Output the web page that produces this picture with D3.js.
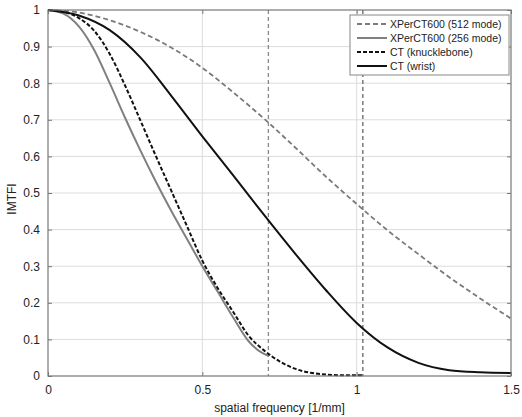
<!DOCTYPE html>
<html>
<head>
<meta charset="utf-8">
<script src="https://cdn.jsdelivr.net/npm/d3@7"></script>
<style>
    body { margin: 0; background: #fff; }
    text { font-family: "Liberation Sans", Arial, sans-serif; fill: #222; }
    .grid line { stroke: #dcdcdc; stroke-width: 1; }
</style>
</head>
<body>
<div id="mtf-plot"></div>
<script>
// spatial frequency [1/mm] and |MTF|
const xper512Freq = [0, 0.1, 0.2, 0.3, 0.4, 0.5, 0.6, 0.7, 0.8, 0.9, 1.0, 1.1, 1.2, 1.3, 1.4, 1.5];
const xper512Mtf  = [1, 0.993, 0.972, 0.94, 0.897, 0.842, 0.775, 0.703, 0.625, 0.545, 0.47, 0.398, 0.333, 0.27, 0.212, 0.157];

const xper256Freq = [0, 0.05, 0.1, 0.15, 0.2, 0.25, 0.3, 0.35, 0.4, 0.45, 0.5, 0.55, 0.6, 0.65, 0.69, 0.714];
const xper256Mtf  = [1, 0.99, 0.955, 0.89, 0.8, 0.705, 0.615, 0.53, 0.45, 0.375, 0.3, 0.23, 0.16, 0.095, 0.065, 0.055];

const knuckleFreq = [0, 0.05, 0.1, 0.15, 0.2, 0.25, 0.3, 0.35, 0.4, 0.45, 0.5, 0.55, 0.6, 0.65, 0.7, 0.75, 0.8, 0.85, 0.9, 0.95, 1.02];
const knuckleMtf  = [1, 0.995, 0.978, 0.943, 0.88, 0.793, 0.697, 0.6, 0.505, 0.41, 0.315, 0.24, 0.175, 0.11, 0.07, 0.04, 0.02, 0.009, 0.004, 0.002, 0.002];

const wristFreq = [0, 0.1, 0.2, 0.3, 0.4, 0.5, 0.6, 0.7, 0.8, 0.9, 1.0, 1.1, 1.2, 1.3, 1.4, 1.5];
const wristMtf  = [1, 0.985, 0.945, 0.87, 0.765, 0.655, 0.548, 0.44, 0.335, 0.235, 0.145, 0.078, 0.036, 0.016, 0.01, 0.008];

// vertical dashed markers
const markerFreqs = [0.714, 1.02];

const xTicks = [0, 0.5, 1, 1.5];
const yTicks = [0, 0.1, 0.2, 0.3, 0.4, 0.5, 0.6, 0.7, 0.8, 0.9, 1];
const xGrid = [0.5, 1];

const seriesNames = ['XPerCT600 (512 mode)', 'XPerCT600 (256 mode)', 'CT (knucklebone)', 'CT (wrist)'];

function zip(fs, vs) {
    return fs.map((f, i) => [f, vs[i]]);
}

function createPlot() {
    let svgWidth = 522,
        svgHeight = 417,
        margin = {top: 10, right: 11, bottom: 41, left: 48},
        plotWidth = svgWidth - margin.left - margin.right,
        plotHeight = svgHeight - margin.top - margin.bottom,
        svg = d3.select('#mtf-plot').append('svg')
                .attr('width', svgWidth)
                .attr('height', svgHeight),
        plot = svg.append('g')
                  .attr('transform', `translate(${margin.left}, ${margin.top})`);

    let xScale = d3.scaleLinear().domain([0, 1.5]).range([0, plotWidth]),
        yScale = d3.scaleLinear().domain([0, 1]).range([plotHeight, 0]);

    // grid
    let grid = plot.append('g').attr('class', 'grid');
    grid.selectAll('line.h')
        .data(yTicks.slice(1, -1)).enter().append('line')
        .attr('x1', 0).attr('x2', plotWidth)
        .attr('y1', d => yScale(d)).attr('y2', d => yScale(d));
    grid.selectAll('line.v')
        .data(xGrid).enter().append('line')
        .attr('y1', 0).attr('y2', plotHeight)
        .attr('x1', d => xScale(d)).attr('x2', d => xScale(d));

    // axes (inward ticks on all four sides)
    let tickLen = 4;
    plot.append('g')
        .attr('transform', `translate(0, ${plotHeight})`)
        .call(d3.axisBottom(xScale).tickValues(xTicks)
                .tickSize(-tickLen).tickPadding(9)
                .tickFormat(d3.format('')));
    plot.append('g')
        .call(d3.axisLeft(yScale).tickValues(yTicks)
                .tickSize(-tickLen).tickPadding(8)
                .tickFormat(d3.format('')));
    plot.append('g')
        .attr('transform', `translate(${plotWidth}, 0)`)
        .call(d3.axisRight(yScale).tickValues(yTicks).tickSize(-tickLen).tickFormat(''));
    plot.append('g')
        .call(d3.axisTop(xScale).tickValues(xTicks).tickSize(-tickLen).tickFormat(''));

    svg.selectAll('.domain').remove();
    svg.selectAll('.tick line').attr('stroke', '#777');
    svg.selectAll('.tick text').attr('font-size', 12).attr('fill', '#222');

    // markers
    plot.selectAll('line.marker')
        .data(markerFreqs).enter().append('line')
        .attr('class', 'marker')
        .attr('x1', d => xScale(d)).attr('x2', d => xScale(d))
        .attr('y1', 0).attr('y2', plotHeight)
        .attr('stroke', (d, i) => i === 0 ? '#888' : '#666')
        .attr('stroke-width', 1.3)
        .attr('stroke-dasharray', '4,3');

    // curves
    let line = d3.line()
                 .x(d => xScale(d[0]))
                 .y(d => yScale(d[1]))
                 .curve(d3.curveMonotoneX);
    let series = [
        {data: zip(xper512Freq, xper512Mtf), color: '#7a7a7a', dash: '5,3', width: 1.8},
        {data: zip(xper256Freq, xper256Mtf), color: '#808080', dash: null, width: 2},
        {data: zip(knuckleFreq, knuckleMtf), color: '#111', dash: '4,2', width: 2},
        {data: zip(wristFreq, wristMtf), color: '#111', dash: null, width: 2}
    ];
    plot.selectAll('path.curve')
        .data(series).enter().append('path')
        .attr('class', 'curve')
        .attr('d', d => line(d.data))
        .attr('fill', 'none')
        .attr('stroke', d => d.color)
        .attr('stroke-width', d => d.width)
        .attr('stroke-dasharray', d => d.dash);

    // frame
    plot.append('rect')
        .attr('width', plotWidth).attr('height', plotHeight)
        .attr('fill', 'none').attr('stroke', '#777').attr('stroke-width', 1.2);

    // legend
    let legend = svg.append('g').attr('transform', 'translate(350, 15)');
    legend.append('rect')
          .attr('width', 159).attr('height', 60)
          .attr('fill', '#fff').attr('stroke', '#888').attr('stroke-width', 1);
    let items = legend.selectAll('g.item')
                      .data(series).enter().append('g')
                      .attr('transform', (d, i) => `translate(0, ${9 + 14 * i})`);
    items.append('line')
         .attr('x1', 7).attr('x2', 37)
         .attr('stroke', d => d.color)
         .attr('stroke-width', d => d.width)
         .attr('stroke-dasharray', d => d.dash);
    items.append('text')
         .attr('x', 40).attr('y', 4)
         .attr('font-size', 10.5)
         .text((d, i) => seriesNames[i]);

    // axis labels
    svg.append('text')
       .attr('x', margin.left + plotWidth / 2).attr('y', 412)
       .attr('text-anchor', 'middle').attr('font-size', 12)
       .text('spatial frequency [1/mm]');
    svg.append('text')
       .attr('transform', 'translate(16, 199) rotate(-90)')
       .attr('text-anchor', 'middle').attr('font-size', 12)
       .text('IMTFI');
}

createPlot();
</script>
</body>
</html>
